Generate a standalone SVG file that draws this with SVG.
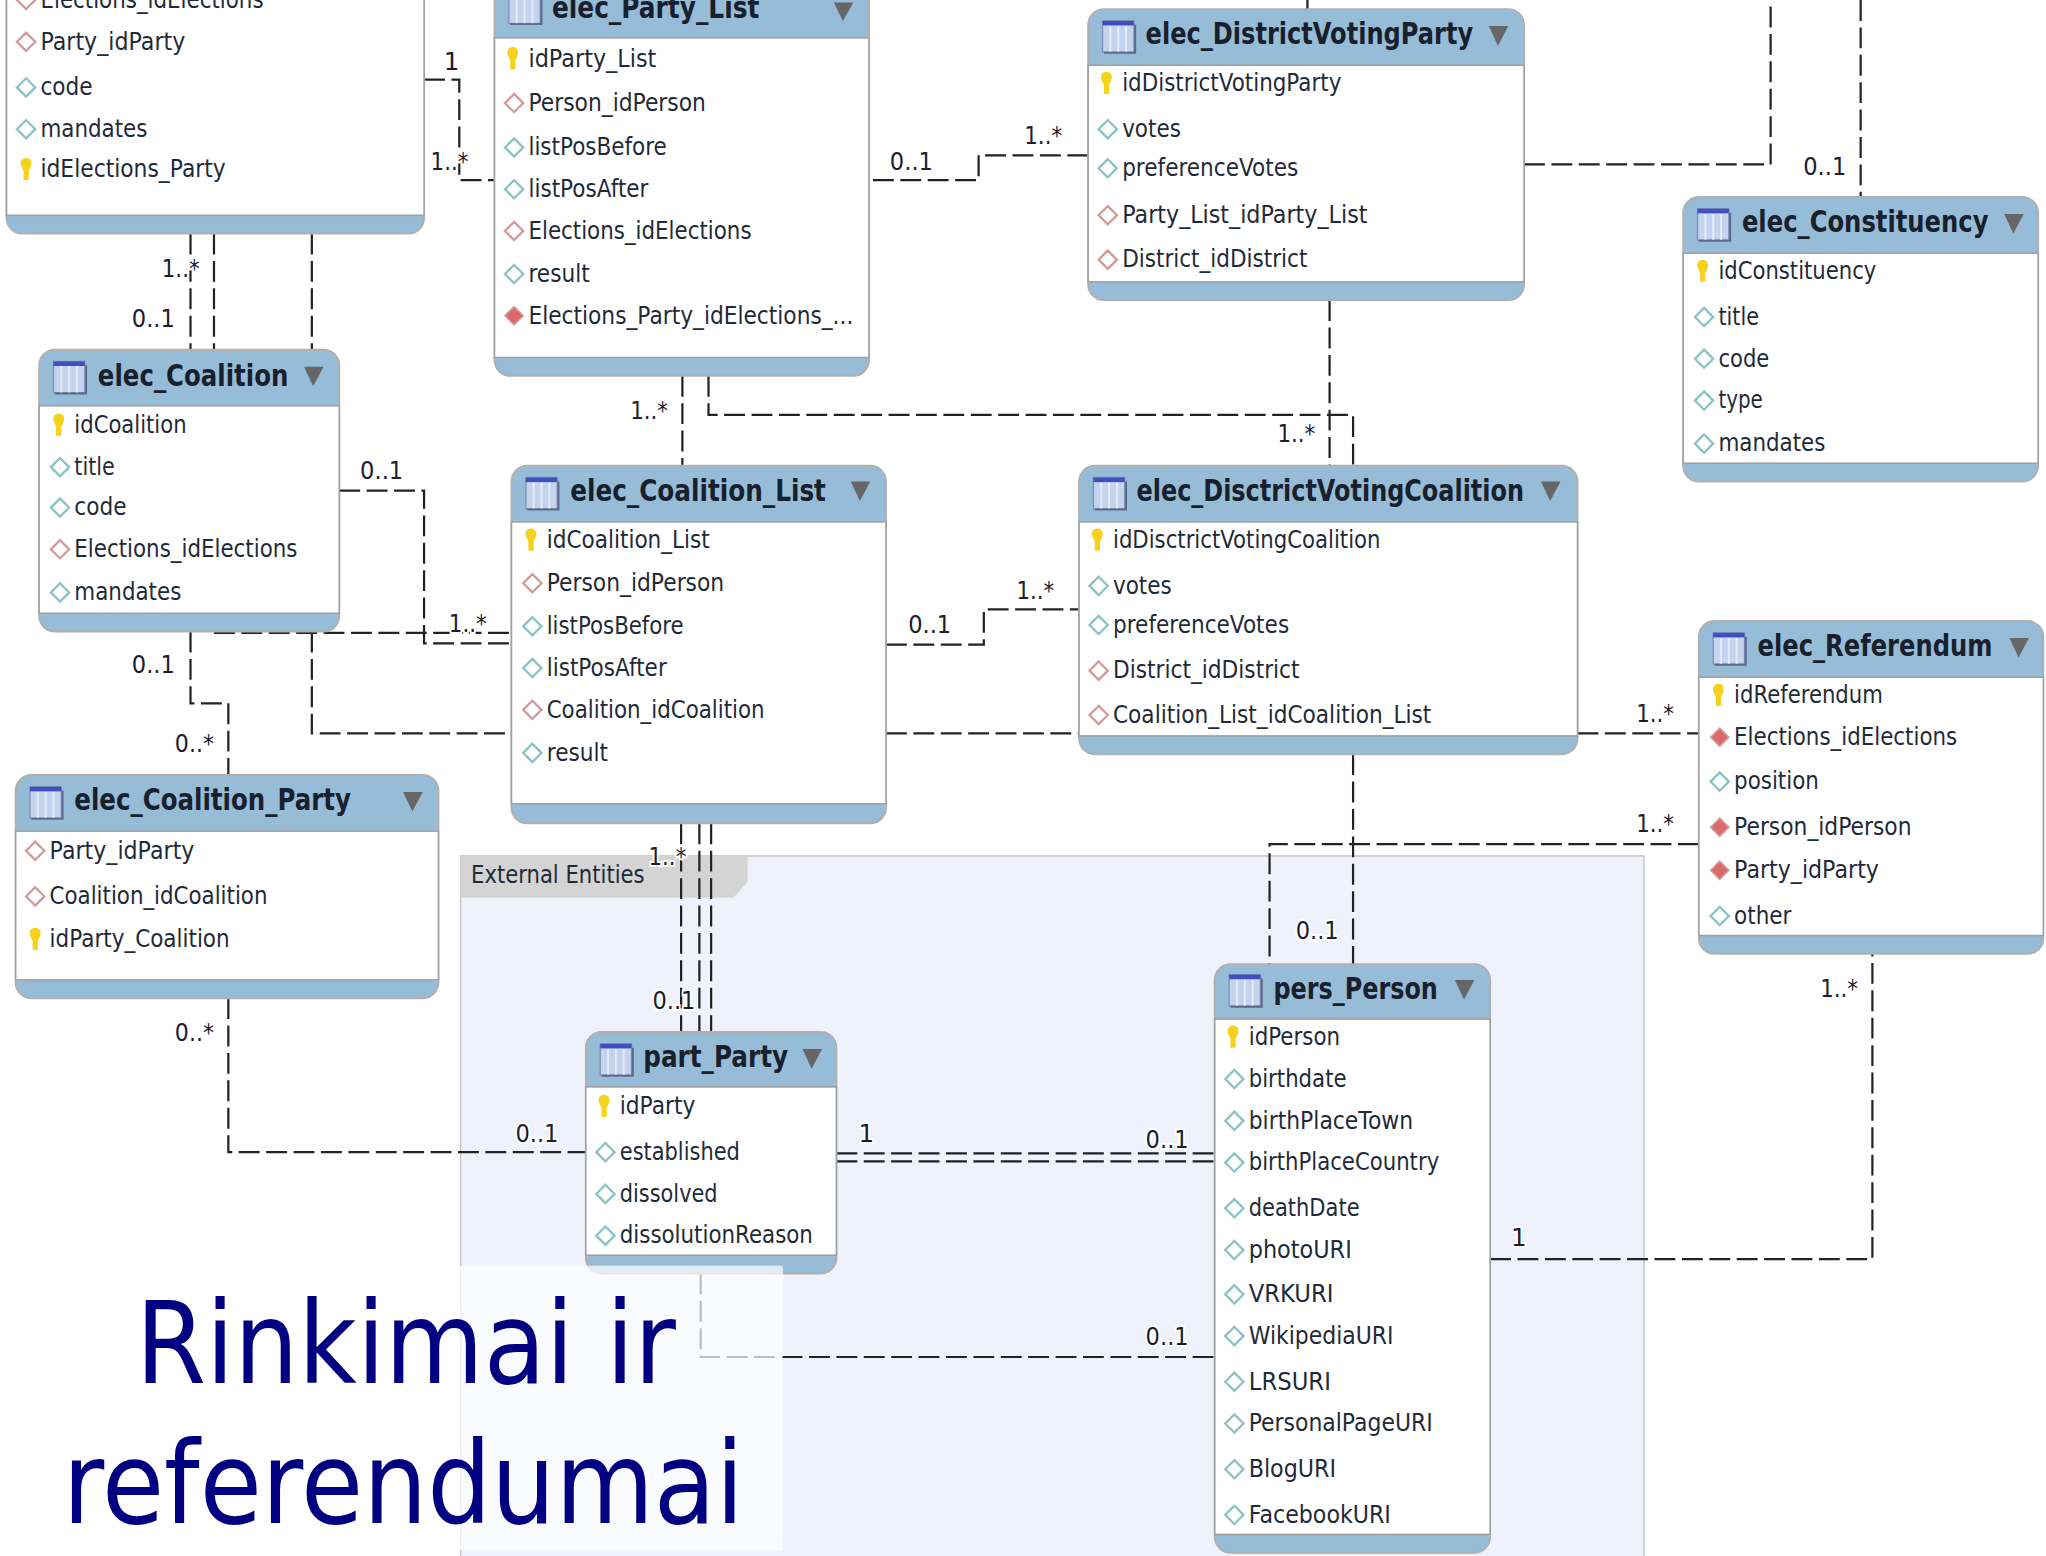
<svg xmlns="http://www.w3.org/2000/svg" width="2046" height="1556" viewBox="0 0 2046 1556">
<style>
text{font-family:"DejaVu Sans","Liberation Sans",Arial,sans-serif}
.frame{fill:#97bcd7;stroke:#b0b0b0;stroke-width:1.5}
.body{fill:#fff;stroke:#a0a0a0;stroke-width:1.2}
.t{font-size:23px;font-weight:bold;fill:#17202c}
.a{font-size:19px;fill:#1f2a38}
.l{font-size:19px;fill:#1d1d2e;paint-order:stroke;stroke:#fff;stroke-width:3px}
.c{fill:none;stroke:#222;stroke-width:1.7;stroke-dasharray:16 5}
.tri{fill:#666}
</style>
<defs>
<g id="icon"><rect x="0" y="0" width="24" height="24" fill="#c4d4ee" stroke="#7f8fb5"/><rect x="0" y="0" width="24" height="3.5" fill="#3f4fc0"/><path d="M6 4V24M12 4V24M18 4V24" stroke="#e6ecf8" stroke-width="1.5"/><path d="M1 24.5H25V3" fill="none" stroke="#5a6a8a" stroke-width="1.5"/></g>
<g id="k"><path d="M0 -9C4 -9 5 -5 3.5 -2L2 1V8H-2V1L-3.5 -2C-5 -5 -4 -9 0 -9Z" fill="#f7d21c"/></g>
<path id="d" d="M0 -7L7 0L0 7L-7 0Z" fill="#fff" stroke="#8cc4c4" stroke-width="1.8"/>
<path id="r" d="M0 -7L7 0L0 7L-7 0Z" fill="#fff" stroke="#d29c9c" stroke-width="1.8"/>
<path id="f" d="M0 -7L7 0L0 7L-7 0Z" fill="#dd6a6a" stroke="#d29c9c" stroke-width="1.2"/>
</defs>
<rect width="2046" height="1556" fill="#fff"/>
<g transform="scale(1.3048)">
<g id="group-external">
<rect x="353" y="656" width="907" height="540" fill="#eff1fd" stroke="#c8c8c8" stroke-width="1.2"/>
<path d="M353 656H573V676L562 688H353Z" fill="#d4d4d4"/>
<text class="a" x="361" y="677" textLength="133" lengthAdjust="spacingAndGlyphs">External Entities</text>
</g>
<g id="connectors">
<path class="c" d="M325 61H352V138H379"/>
<path class="c" d="M669 138H750V119H834"/>
<path class="c" d="M1168 126H1357V0"/>
<path class="c" d="M1426 0V151"/>
<path class="c" d="M1002 0V7"/>
<path class="c" d="M1019 230V357"/>
<path class="c" d="M543 288V318H1037V357"/>
<path class="c" d="M523 288V357"/>
<path class="c" d="M146 179V268"/>
<path class="c" d="M164 179V268"/>
<path class="c" d="M239 179V268"/>
<path class="c" d="M164 485H392"/>
<path class="c" d="M260 376H325V493H392"/>
<path class="c" d="M146 484V539H175V594"/>
<path class="c" d="M679 494H754V467H827"/>
<path class="c" d="M239 484V562H392"/>
<path class="c" d="M679 562H827"/>
<path class="c" d="M1209 562H1302"/>
<path class="c" d="M522 631V791"/>
<path class="c" d="M536 631V791"/>
<path class="c" d="M545 631V791"/>
<path class="c" d="M1037 578V739"/>
<path class="c" d="M1302 647H973V739"/>
<path class="c" d="M175 765V883H449"/>
<path class="c" d="M641 884H931"/>
<path class="c" d="M641 890H931"/>
<path class="c" d="M537 976V1040H931"/>
<path class="c" d="M1142 965H1435V731"/>
</g>
<g id="t-elections-party">
<rect class="frame" x="5" y="-40" width="320" height="219" rx="12"/><rect class="body" x="5" y="-20" width="320" height="185"/>
<use href="#r" x="20" y="0"/><text class="a" x="31" y="6" textLength="171" lengthAdjust="spacingAndGlyphs">Elections_idElections</text>
<use href="#r" x="20" y="32"/><text class="a" x="31" y="38" textLength="111" lengthAdjust="spacingAndGlyphs">Party_idParty</text>
<use href="#d" x="20" y="67"/><text class="a" x="31" y="73" textLength="40" lengthAdjust="spacingAndGlyphs">code</text>
<use href="#d" x="20" y="99"/><text class="a" x="31" y="105" textLength="82" lengthAdjust="spacingAndGlyphs">mandates</text>
<use href="#k" x="20" y="130"/><text class="a" x="31" y="136" textLength="142" lengthAdjust="spacingAndGlyphs">idElections_Party</text>
</g>
<g id="t-party-list">
<rect class="frame" x="379" y="-14" width="287" height="302" rx="12"/><rect class="body" x="379" y="29" width="287" height="245"/>
<use href="#icon" x="390" y="-6"/><text class="t" x="423" y="14" textLength="159" lengthAdjust="spacingAndGlyphs">elec_Party_List</text><path class="tri" d="M639 2H654L646 16Z"/>
<use href="#k" x="393" y="45"/><text class="a" x="405" y="51" textLength="98" lengthAdjust="spacingAndGlyphs">idParty_List</text>
<use href="#r" x="394" y="79"/><text class="a" x="405" y="85" textLength="136" lengthAdjust="spacingAndGlyphs">Person_idPerson</text>
<use href="#d" x="394" y="113"/><text class="a" x="405" y="119" textLength="106" lengthAdjust="spacingAndGlyphs">listPosBefore</text>
<use href="#d" x="394" y="145"/><text class="a" x="405" y="151" textLength="92" lengthAdjust="spacingAndGlyphs">listPosAfter</text>
<use href="#r" x="394" y="177"/><text class="a" x="405" y="183" textLength="171" lengthAdjust="spacingAndGlyphs">Elections_idElections</text>
<use href="#d" x="394" y="210"/><text class="a" x="405" y="216" textLength="47" lengthAdjust="spacingAndGlyphs">result</text>
<use href="#f" x="394" y="242"/><text class="a" x="405" y="248" textLength="249" lengthAdjust="spacingAndGlyphs">Elections_Party_idElections_...</text>
</g>
<g id="t-district-voting-party">
<rect class="frame" x="834" y="7" width="334" height="223" rx="12"/><rect class="body" x="834" y="50" width="334" height="166"/>
<use href="#icon" x="845" y="16"/><text class="t" x="878" y="34" textLength="251" lengthAdjust="spacingAndGlyphs">elec_DistrictVotingParty</text><path class="tri" d="M1141 20H1156L1148 35Z"/>
<use href="#k" x="848" y="64"/><text class="a" x="860" y="70" textLength="168" lengthAdjust="spacingAndGlyphs">idDistrictVotingParty</text>
<use href="#d" x="849" y="99"/><text class="a" x="860" y="105" textLength="45" lengthAdjust="spacingAndGlyphs">votes</text>
<use href="#d" x="849" y="129"/><text class="a" x="860" y="135" textLength="135" lengthAdjust="spacingAndGlyphs">preferenceVotes</text>
<use href="#r" x="849" y="165"/><text class="a" x="860" y="171" textLength="188" lengthAdjust="spacingAndGlyphs">Party_List_idParty_List</text>
<use href="#r" x="849" y="199"/><text class="a" x="860" y="205" textLength="142" lengthAdjust="spacingAndGlyphs">District_idDistrict</text>
</g>
<g id="t-constituency">
<rect class="frame" x="1290" y="151" width="272" height="218" rx="12"/><rect class="body" x="1290" y="194" width="272" height="161"/>
<use href="#icon" x="1301" y="160"/><text class="t" x="1335" y="178" textLength="189" lengthAdjust="spacingAndGlyphs">elec_Constituency</text><path class="tri" d="M1536 164H1551L1543 179Z"/>
<use href="#k" x="1305" y="208"/><text class="a" x="1317" y="214" textLength="121" lengthAdjust="spacingAndGlyphs">idConstituency</text>
<use href="#d" x="1306" y="243"/><text class="a" x="1317" y="249" textLength="31" lengthAdjust="spacingAndGlyphs">title</text>
<use href="#d" x="1306" y="275"/><text class="a" x="1317" y="281" textLength="39" lengthAdjust="spacingAndGlyphs">code</text>
<use href="#d" x="1306" y="307"/><text class="a" x="1317" y="313" textLength="34" lengthAdjust="spacingAndGlyphs">type</text>
<use href="#d" x="1306" y="340"/><text class="a" x="1317" y="346" textLength="82" lengthAdjust="spacingAndGlyphs">mandates</text>
</g>
<g id="t-coalition">
<rect class="frame" x="30" y="268" width="230" height="216" rx="12"/><rect class="body" x="30" y="311" width="230" height="159"/>
<use href="#icon" x="41" y="277"/><text class="t" x="75" y="296" textLength="146" lengthAdjust="spacingAndGlyphs">elec_Coalition</text><path class="tri" d="M233 281H248L240 296Z"/>
<use href="#k" x="45" y="326"/><text class="a" x="57" y="332" textLength="86" lengthAdjust="spacingAndGlyphs">idCoalition</text>
<use href="#d" x="46" y="358"/><text class="a" x="57" y="364" textLength="31" lengthAdjust="spacingAndGlyphs">title</text>
<use href="#d" x="46" y="389"/><text class="a" x="57" y="395" textLength="40" lengthAdjust="spacingAndGlyphs">code</text>
<use href="#r" x="46" y="421"/><text class="a" x="57" y="427" textLength="171" lengthAdjust="spacingAndGlyphs">Elections_idElections</text>
<use href="#d" x="46" y="454"/><text class="a" x="57" y="460" textLength="82" lengthAdjust="spacingAndGlyphs">mandates</text>
</g>
<g id="t-coalition-list">
<rect class="frame" x="392" y="357" width="287" height="274" rx="12"/><rect class="body" x="392" y="400" width="287" height="216"/>
<use href="#icon" x="403" y="366"/><text class="t" x="437" y="384" textLength="196" lengthAdjust="spacingAndGlyphs">elec_Coalition_List</text><path class="tri" d="M652 369H667L659 384Z"/>
<use href="#k" x="407" y="414"/><text class="a" x="419" y="420" textLength="125" lengthAdjust="spacingAndGlyphs">idCoalition_List</text>
<use href="#r" x="408" y="447"/><text class="a" x="419" y="453" textLength="136" lengthAdjust="spacingAndGlyphs">Person_idPerson</text>
<use href="#d" x="408" y="480"/><text class="a" x="419" y="486" textLength="105" lengthAdjust="spacingAndGlyphs">listPosBefore</text>
<use href="#d" x="408" y="512"/><text class="a" x="419" y="518" textLength="92" lengthAdjust="spacingAndGlyphs">listPosAfter</text>
<use href="#r" x="408" y="544"/><text class="a" x="419" y="550" textLength="167" lengthAdjust="spacingAndGlyphs">Coalition_idCoalition</text>
<use href="#d" x="408" y="577"/><text class="a" x="419" y="583" textLength="47" lengthAdjust="spacingAndGlyphs">result</text>
</g>
<g id="t-district-voting-coalition">
<rect class="frame" x="827" y="357" width="382" height="221" rx="12"/><rect class="body" x="827" y="400" width="382" height="164"/>
<use href="#icon" x="838" y="366"/><text class="t" x="871" y="384" textLength="297" lengthAdjust="spacingAndGlyphs">elec_DisctrictVotingCoalition</text><path class="tri" d="M1181 369H1196L1188 384Z"/>
<use href="#k" x="841" y="414"/><text class="a" x="853" y="420" textLength="205" lengthAdjust="spacingAndGlyphs">idDisctrictVotingCoalition</text>
<use href="#d" x="842" y="449"/><text class="a" x="853" y="455" textLength="45" lengthAdjust="spacingAndGlyphs">votes</text>
<use href="#d" x="842" y="479"/><text class="a" x="853" y="485" textLength="135" lengthAdjust="spacingAndGlyphs">preferenceVotes</text>
<use href="#r" x="842" y="514"/><text class="a" x="853" y="520" textLength="143" lengthAdjust="spacingAndGlyphs">District_idDistrict</text>
<use href="#r" x="842" y="548"/><text class="a" x="853" y="554" textLength="244" lengthAdjust="spacingAndGlyphs">Coalition_List_idCoalition_List</text>
</g>
<g id="t-referendum">
<rect class="frame" x="1302" y="476" width="264" height="255" rx="12"/><rect class="body" x="1302" y="519" width="264" height="198"/>
<use href="#icon" x="1313" y="485"/><text class="t" x="1347" y="503" textLength="180" lengthAdjust="spacingAndGlyphs">elec_Referendum</text><path class="tri" d="M1540 489H1555L1547 504Z"/>
<use href="#k" x="1317" y="533"/><text class="a" x="1329" y="539" textLength="114" lengthAdjust="spacingAndGlyphs">idReferendum</text>
<use href="#f" x="1318" y="565"/><text class="a" x="1329" y="571" textLength="171" lengthAdjust="spacingAndGlyphs">Elections_idElections</text>
<use href="#d" x="1318" y="599"/><text class="a" x="1329" y="605" textLength="65" lengthAdjust="spacingAndGlyphs">position</text>
<use href="#f" x="1318" y="634"/><text class="a" x="1329" y="640" textLength="136" lengthAdjust="spacingAndGlyphs">Person_idPerson</text>
<use href="#f" x="1318" y="667"/><text class="a" x="1329" y="673" textLength="111" lengthAdjust="spacingAndGlyphs">Party_idParty</text>
<use href="#d" x="1318" y="702"/><text class="a" x="1329" y="708" textLength="44" lengthAdjust="spacingAndGlyphs">other</text>
</g>
<g id="t-coalition-party">
<rect class="frame" x="12" y="594" width="324" height="171" rx="12"/><rect class="body" x="12" y="637" width="324" height="114"/>
<use href="#icon" x="23" y="603"/><text class="t" x="57" y="621" textLength="212" lengthAdjust="spacingAndGlyphs">elec_Coalition_Party</text><path class="tri" d="M309 607H324L316 622Z"/>
<use href="#r" x="27" y="652"/><text class="a" x="38" y="658" textLength="111" lengthAdjust="spacingAndGlyphs">Party_idParty</text>
<use href="#r" x="27" y="687"/><text class="a" x="38" y="693" textLength="167" lengthAdjust="spacingAndGlyphs">Coalition_idCoalition</text>
<use href="#k" x="27" y="720"/><text class="a" x="38" y="726" textLength="138" lengthAdjust="spacingAndGlyphs">idParty_Coalition</text>
</g>
<g id="t-part-party">
<rect class="frame" x="449" y="791" width="192" height="185" rx="12"/><rect class="body" x="449" y="833" width="192" height="129"/>
<use href="#icon" x="460" y="800"/><text class="t" x="493" y="818" textLength="111" lengthAdjust="spacingAndGlyphs">part_Party</text><path class="tri" d="M615 804H630L622 819Z"/>
<use href="#k" x="463" y="848"/><text class="a" x="475" y="854" textLength="58" lengthAdjust="spacingAndGlyphs">idParty</text>
<use href="#d" x="464" y="883"/><text class="a" x="475" y="889" textLength="92" lengthAdjust="spacingAndGlyphs">established</text>
<use href="#d" x="464" y="915"/><text class="a" x="475" y="921" textLength="75" lengthAdjust="spacingAndGlyphs">dissolved</text>
<use href="#d" x="464" y="947"/><text class="a" x="475" y="953" textLength="148" lengthAdjust="spacingAndGlyphs">dissolutionReason</text>
</g>
<g id="t-pers-person">
<rect class="frame" x="931" y="739" width="211" height="451" rx="12"/><rect class="body" x="931" y="781" width="211" height="395"/>
<use href="#icon" x="942" y="747"/><text class="t" x="976" y="766" textLength="126" lengthAdjust="spacingAndGlyphs">pers_Person</text><path class="tri" d="M1115 751H1130L1122 766Z"/>
<use href="#k" x="945" y="795"/><text class="a" x="957" y="801" textLength="70" lengthAdjust="spacingAndGlyphs">idPerson</text>
<use href="#d" x="946" y="827"/><text class="a" x="957" y="833" textLength="75" lengthAdjust="spacingAndGlyphs">birthdate</text>
<use href="#d" x="946" y="859"/><text class="a" x="957" y="865" textLength="126" lengthAdjust="spacingAndGlyphs">birthPlaceTown</text>
<use href="#d" x="946" y="891"/><text class="a" x="957" y="897" textLength="146" lengthAdjust="spacingAndGlyphs">birthPlaceCountry</text>
<use href="#d" x="946" y="926"/><text class="a" x="957" y="932" textLength="85" lengthAdjust="spacingAndGlyphs">deathDate</text>
<use href="#d" x="946" y="958"/><text class="a" x="957" y="964" textLength="79" lengthAdjust="spacingAndGlyphs">photoURI</text>
<use href="#d" x="946" y="992"/><text class="a" x="957" y="998" textLength="65" lengthAdjust="spacingAndGlyphs">VRKURI</text>
<use href="#d" x="946" y="1024"/><text class="a" x="957" y="1030" textLength="111" lengthAdjust="spacingAndGlyphs">WikipediaURI</text>
<use href="#d" x="946" y="1059"/><text class="a" x="957" y="1065" textLength="63" lengthAdjust="spacingAndGlyphs">LRSURI</text>
<use href="#d" x="946" y="1091"/><text class="a" x="957" y="1097" textLength="141" lengthAdjust="spacingAndGlyphs">PersonalPageURI</text>
<use href="#d" x="946" y="1126"/><text class="a" x="957" y="1132" textLength="67" lengthAdjust="spacingAndGlyphs">BlogURI</text>
<use href="#d" x="946" y="1161"/><text class="a" x="957" y="1167" textLength="109" lengthAdjust="spacingAndGlyphs">FacebookURI</text>
</g>
<g id="connector-labels">
<text class="l" x="340" y="54" textLength="12" lengthAdjust="spacingAndGlyphs">1</text><text class="l" x="330" y="130" textLength="29" lengthAdjust="spacingAndGlyphs">1..*</text>
<text class="l" x="682" y="130" textLength="33" lengthAdjust="spacingAndGlyphs">0..1</text><text class="l" x="785" y="110" textLength="29" lengthAdjust="spacingAndGlyphs">1..*</text>
<text class="l" x="1382" y="134" textLength="33" lengthAdjust="spacingAndGlyphs">0..1</text><text class="l" x="979" y="339" textLength="29" lengthAdjust="spacingAndGlyphs">1..*</text>
<text class="l" x="483" y="321" textLength="29" lengthAdjust="spacingAndGlyphs">1..*</text><text class="l" x="124" y="212" textLength="29" lengthAdjust="spacingAndGlyphs">1..*</text>
<text class="l" x="101" y="251" textLength="33" lengthAdjust="spacingAndGlyphs">0..1</text><text class="l" x="276" y="367" textLength="33" lengthAdjust="spacingAndGlyphs">0..1</text>
<text class="l" x="344" y="484" textLength="29" lengthAdjust="spacingAndGlyphs">1..*</text><text class="l" x="101" y="516" textLength="33" lengthAdjust="spacingAndGlyphs">0..1</text>
<text class="l" x="134" y="576" textLength="30" lengthAdjust="spacingAndGlyphs">0..*</text><text class="l" x="696" y="485" textLength="33" lengthAdjust="spacingAndGlyphs">0..1</text>
<text class="l" x="779" y="459" textLength="29" lengthAdjust="spacingAndGlyphs">1..*</text><text class="l" x="1254" y="553" textLength="29" lengthAdjust="spacingAndGlyphs">1..*</text>
<text class="l" x="497" y="663" textLength="29" lengthAdjust="spacingAndGlyphs">1..*</text><text class="l" x="500" y="773" textLength="33" lengthAdjust="spacingAndGlyphs">0..1</text>
<text class="l" x="993" y="720" textLength="33" lengthAdjust="spacingAndGlyphs">0..1</text><text class="l" x="1254" y="638" textLength="29" lengthAdjust="spacingAndGlyphs">1..*</text>
<text class="l" x="134" y="798" textLength="30" lengthAdjust="spacingAndGlyphs">0..*</text><text class="l" x="395" y="875" textLength="33" lengthAdjust="spacingAndGlyphs">0..1</text>
<text class="l" x="658" y="875" textLength="12" lengthAdjust="spacingAndGlyphs">1</text><text class="l" x="878" y="880" textLength="33" lengthAdjust="spacingAndGlyphs">0..1</text>
<text class="l" x="878" y="1031" textLength="33" lengthAdjust="spacingAndGlyphs">0..1</text><text class="l" x="1158" y="955" textLength="12" lengthAdjust="spacingAndGlyphs">1</text>
<text class="l" x="1395" y="764" textLength="29" lengthAdjust="spacingAndGlyphs">1..*</text>
</g>
<rect id="title-backdrop" x="40" y="970" width="560" height="218" fill="#fff" fill-opacity=".7"/>
<g id="slide-title" fill="#000080" font-size="88">
<text x="104" y="1060" textLength="414" lengthAdjust="spacingAndGlyphs">Rinkimai ir</text>
<text x="48" y="1167" textLength="522" lengthAdjust="spacingAndGlyphs">referendumai</text>
</g>
</g>
</svg>
